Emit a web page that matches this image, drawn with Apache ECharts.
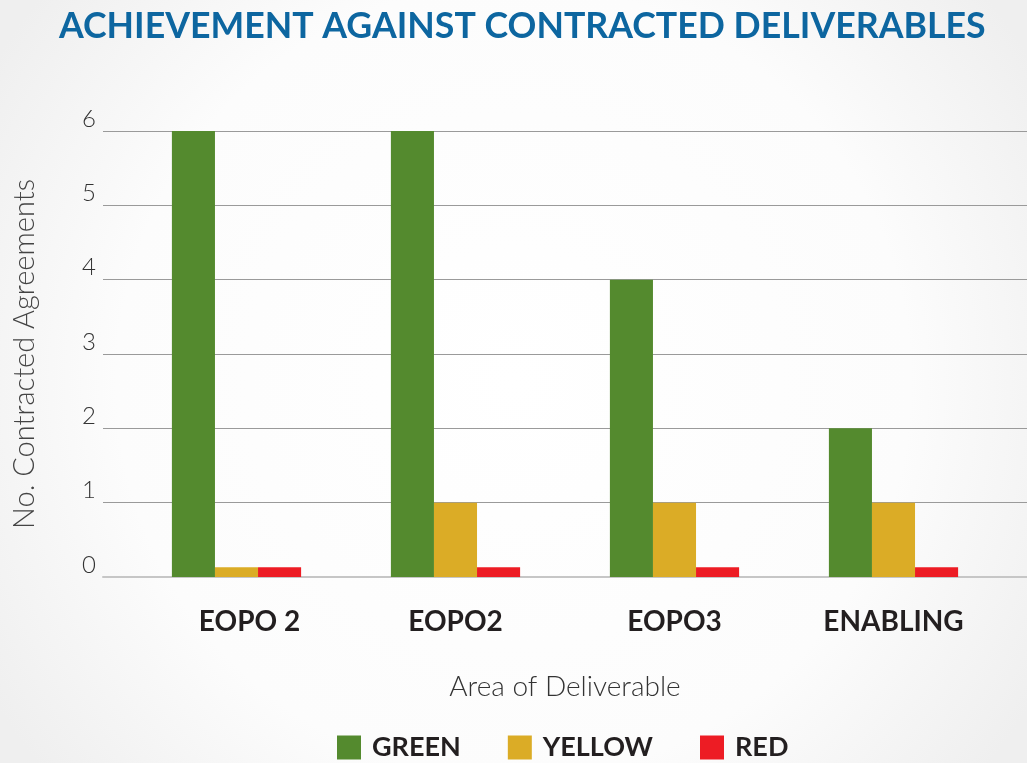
<!DOCTYPE html>
<html>
<head>
<meta charset="utf-8">
<script src="https://cdn.jsdelivr.net/npm/echarts@6/dist/echarts.min.js"></script>
<style>
  html, body { margin: 0; padding: 0; }
  #main { width: 1027px; height: 763px; }
</style>
</head>
<body>
<div id="main"></div>
<script>
var categories = ['EOPO 2', 'EOPO2', 'EOPO3', 'ENABLING'];
var greenVals = [6, 6, 4, 2];
// zero values are drawn as a thin stub in the original
var yellowVals = [0.13, 1, 1, 1];
var redVals = [0.13, 0.13, 0.13, 0.13];
var yTicks = [0, 1, 2, 3, 4, 5, 6];

var font = 'Lato';

var myChart = echarts.init(document.getElementById('main'));
myChart.setOption({
    backgroundColor: {
        type: 'radial', x: 0.5, y: 0.5, r: 0.8,
        colorStops: [
            {offset: 0, color: '#ffffff'},
            {offset: 0.65, color: '#fcfcfc'},
            {offset: 1, color: '#efefef'}
        ]
    },
    title: {
        text: 'ACHIEVEMENT AGAINST CONTRACTED DELIVERABLES',
        left: 54,
        top: 3,
        textStyle: {
            fontFamily: font,
            fontWeight: 'bold',
            fontSize: 35.7,
            color: '#0d66a0'
        }
    },
    legend: {
        top: 729,
        left: 332,
        itemWidth: 24,
        itemHeight: 24,
        itemGap: 47,
        icon: 'rect',
        textStyle: {
            fontFamily: font,
            fontWeight: 'bold',
            fontSize: 27,
            color: '#231f20',
            padding: [0, 0, 0, 6]
        },
        data: ['GREEN', 'YELLOW', 'RED']
    },
    grid: [
        {left: 103, right: 0, top: 131, bottom: 186},
        {left: 127, right: 24, top: 131, bottom: 186}
    ],
    xAxis: [
        {
            type: 'category',
            gridIndex: 0,
            data: categories,
            axisLine: {show: true, lineStyle: {color: '#c6c6c6', width: 2}},
            axisTick: {show: false},
            axisLabel: {show: false},
            name: 'Area of Deliverable',
            nameLocation: 'middle',
            nameGap: 96,
            nameTextStyle: {
                fontFamily: font,
                fontWeight: 300,
                fontSize: 28,
                color: '#333'
            }
        },
        {
            type: 'category',
            gridIndex: 1,
            data: categories,
            axisLine: {show: false},
            axisTick: {show: false},
            axisLabel: {
                margin: 31,
                fontFamily: font,
                fontWeight: 'bold',
                fontSize: 28,
                color: '#231f20',
                formatter: function (value, index) {
                    // first label sits a little right of its bars in the original
                    return index === 0 ? '{a|' + value + '}' : value;
                },
                rich: {
                    a: {
                        fontFamily: font,
                        fontWeight: 'bold',
                        fontSize: 28,
                        color: '#231f20',
                        padding: [0, 0, 0, 26]
                    }
                }
            }
        }
    ],
    yAxis: [
        {
            type: 'value',
            gridIndex: 0,
            min: 0,
            max: yTicks[yTicks.length - 1],
            interval: 1,
            axisLine: {show: false},
            axisTick: {show: false},
            splitLine: {lineStyle: {color: '#9a9a9a', width: 1}},
            axisLabel: {
                margin: 7,
                fontFamily: font,
                fontWeight: 300,
                fontSize: 24,
                color: '#333',
                verticalAlign: 'bottom'
            },
            name: 'No. Contracted Agreements',
            nameLocation: 'middle',
            nameGap: 64,
            nameTextStyle: {
                fontFamily: font,
                fontWeight: 300,
                fontSize: 29,
                color: '#444'
            }
        },
        {
            type: 'value',
            gridIndex: 1,
            min: 0,
            max: yTicks[yTicks.length - 1],
            interval: 1,
            show: false,
            splitLine: {show: false}
        }
    ],
    series: [
        {
            name: 'GREEN', type: 'bar', xAxisIndex: 1, yAxisIndex: 1,
            barGap: '0%', barCategoryGap: '41%',
            itemStyle: {color: '#548a2e'},
            data: greenVals
        },
        {
            name: 'YELLOW', type: 'bar', xAxisIndex: 1, yAxisIndex: 1,
            barGap: '0%', barCategoryGap: '41%',
            itemStyle: {color: '#dbac26'},
            data: yellowVals
        },
        {
            name: 'RED', type: 'bar', xAxisIndex: 1, yAxisIndex: 1,
            barGap: '0%', barCategoryGap: '41%',
            itemStyle: {color: '#ed1c24'},
            data: redVals
        }
    ]
});
</script>
</body>
</html>
